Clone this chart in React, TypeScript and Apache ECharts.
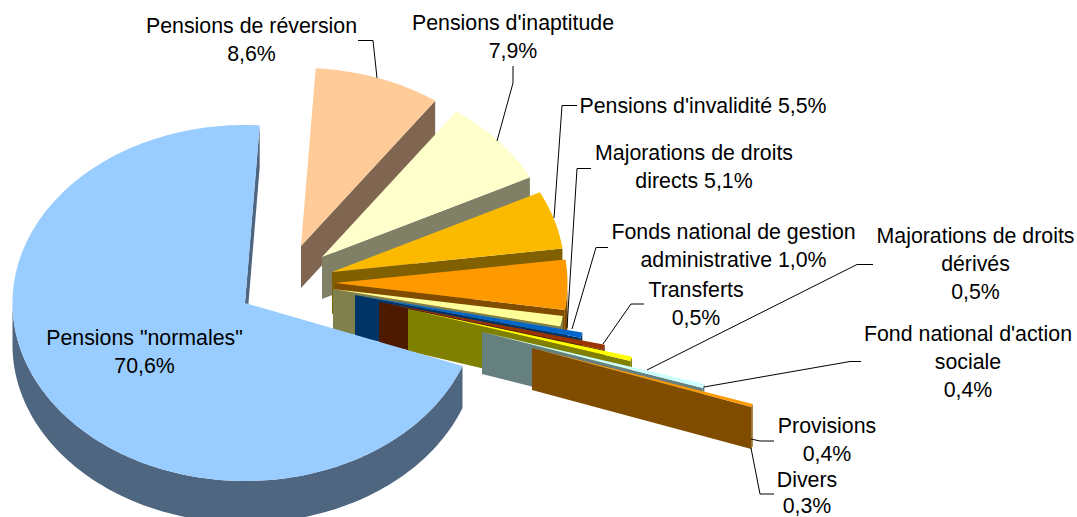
import React, { useEffect, useRef } from "react";
import * as echarts from "echarts";

const sliceNames = [
  'Pensions "normales"',
  "Pensions de réversion",
  "Pensions d'inaptitude",
  "Pensions d'invalidité",
  "Majorations de droits directs",
  "Fonds national de gestion administrative",
  "Transferts",
  "Majorations de droits dérivés",
  "Fond national d'action sociale",
  "Provisions",
  "Divers",
];
const sliceValues = [70.6, 8.6, 7.9, 5.5, 5.1, 1.0, 0.5, 0.5, 0.4, 0.4, 0.3];
const sliceLabels = [
  'Pensions "normales"\n70,6%',
  "Pensions de réversion\n8,6%",
  "Pensions d'inaptitude\n7,9%",
  "Pensions d'invalidité 5,5%",
  "Majorations de droits\ndirects 5,1%",
  "Fonds national de gestion\nadministrative 1,0%",
  "Transferts\n0,5%",
  "Majorations de droits\ndérivés\n0,5%",
  "Fond national d'action\nsociale\n0,4%",
  "Provisions\n0,4%",
  "Divers\n0,3%",
];
const topColors = ["#99CCFF", "#FFCC99", "#FFFFCC", "#FBBA00", "#FF9900", "#FFFF99", "#0066CC", "#993300", "#FFFF00", "#CCFFFF", "#FF9900"];
const sideColors = ["#4F6680", "#806650", "#808066", "#806000", "#804D00", "#80804D", "#003366", "#4D1A00", "#808000", "#668080", "#804D00"];

// Style: how far each slice is pulled out of the pie, in pixels (right, down).
const explode = [
  [0, 0], [56, -57], [77, -46], [87, -31], [90, -20], [88, -14],
  [110, -8], [134, -1], [163, 6], [237, 29], [287, 45],
];

const CX = 245, CY = 303, RX = 232.5, RY = 178, DEPTH = 42;
const START_DEG = 110;
const total = sliceValues.reduce((a, b) => a + b, 0);
const rad = (d: number) => (d * Math.PI) / 180;
// The tilted view does not keep angles quite even, and pulled-out slices lean a little more.
const warp = (t: number, pulled: boolean) => {
  const m = t % 360;
  const lean = pulled && m < 200 ? 1.3 * Math.min(1, Math.max(0, (m - 80) / 15)) : 0;
  return t + 1.4 + 1.1 * Math.sin(rad(2 * t)) - lean;
};
const rim = (ax: number, ay: number, t: number, pulled: boolean) => {
  const w = rad(warp(t, pulled));
  return [ax + RX * Math.sin(w), ay - RY * Math.cos(w)];
};

function renderSlice(params: any, api: any) {
  const i = params.dataIndex;
  const pulled = i > 0;
  const before = sliceValues.slice(0, i).reduce((a, b) => a + b, 0);
  const t0 = START_DEG + (before / total) * 360;
  const t1 = t0 + (api.value(0) / total) * 360;
  const ax = CX + explode[i][0];
  const ay = CY + explode[i][1];
  const arc: number[][] = [];
  const n = Math.max(2, Math.ceil(t1 - t0));
  for (let k = 0; k <= n; k++) arc.push(rim(ax, ay, t0 + ((t1 - t0) * k) / n, pulled));
  const end = arc[arc.length - 1];
  const z2 = i === 0 ? 100 : i * 2;
  const side = sideColors[i];
  const children: any[] = [
    {
      type: "polygon",
      z2,
      shape: { points: [[ax, ay], end, [end[0], end[1] + DEPTH], [ax, ay + DEPTH]] },
      style: { fill: side },
    },
  ];
  // Outer wall: only the part of the arc that faces the viewer.
  const front: number[][] = [];
  for (let k = 0; k <= n; k++) {
    const t = t0 + ((t1 - t0) * k) / n;
    const w = warp(t, pulled) % 360;
    if (w >= 90 && w <= 270) front.push(arc[k]);
  }
  if (front.length > 1) {
    children.push({
      type: "polygon",
      z2,
      shape: { points: [...front, ...front.slice().reverse().map((p) => [p[0], p[1] + DEPTH])] },
      style: { fill: side },
    });
  }
  children.push({
    type: "polygon",
    z2: z2 + 1,
    shape: { points: [[ax, ay], ...arc] },
    style: { fill: topColors[i] },
  });
  return { type: "group", children };
}

const labelPlace = [
  [144.5, 324], [251.5, 12], [513, 9], [703, 92], [694, 139], [733.5, 218], [696, 276], [975.5, 222], [968, 320], [827, 412], [807, 467],
];
const leaders = [
  [[358, 40.5], [373, 40.5], [377, 78]],
  [[513, 66], [513, 83], [497, 141]],
  [[577, 105.5], [562, 105.5], [554, 218]],
  [[591, 168.5], [577, 168.5], [567, 328]],
  [[608, 247.5], [596, 247.5], [572, 329]],
  [[644, 304], [631, 304], [603, 344]],
  [[873, 264.5], [857, 264.5], [647, 370]],
  [[861, 361.5], [850, 361.5], [704, 387]],
  [[774, 441], [760, 441], [751, 439]],
  [[774, 494], [760, 494], [751, 448]],
];

export default function App() {
  const ref = useRef<HTMLDivElement>(null);
  useEffect(() => {
    const chart = echarts.init(ref.current!, undefined, { renderer: "svg" });
    chart.setOption({
      animation: false,
      backgroundColor: "#ffffff",
      series: [
        {
          type: "custom",
          coordinateSystem: "none",
          silent: true,
          renderItem: renderSlice,
          data: sliceValues.map((value, i) => ({ name: sliceNames[i], value })),
        },
      ],
      graphic: [
        ...leaders.map((points) => ({
          type: "polyline",
          z: 10,
          shape: { points },
          style: { stroke: "#000000", lineWidth: 1, fill: "none" },
        })),
        ...sliceLabels.map((text, i) => ({
          type: "text",
          z: 20,
          x: labelPlace[i][0],
          y: labelPlace[i][1],
          style: {
            text,
            fill: "#000000",
            font: '21.33px "Liberation Sans", Arial, sans-serif',
            lineHeight: i === 10 ? 26 : 28,
            align: "center",
            verticalAlign: "top",
          },
        })),
      ],
    });
    return () => chart.dispose();
  }, []);
  return <div ref={ref} style={{ position: "absolute", left: 0, top: 0, width: 1077, height: 517 }} />;
}
